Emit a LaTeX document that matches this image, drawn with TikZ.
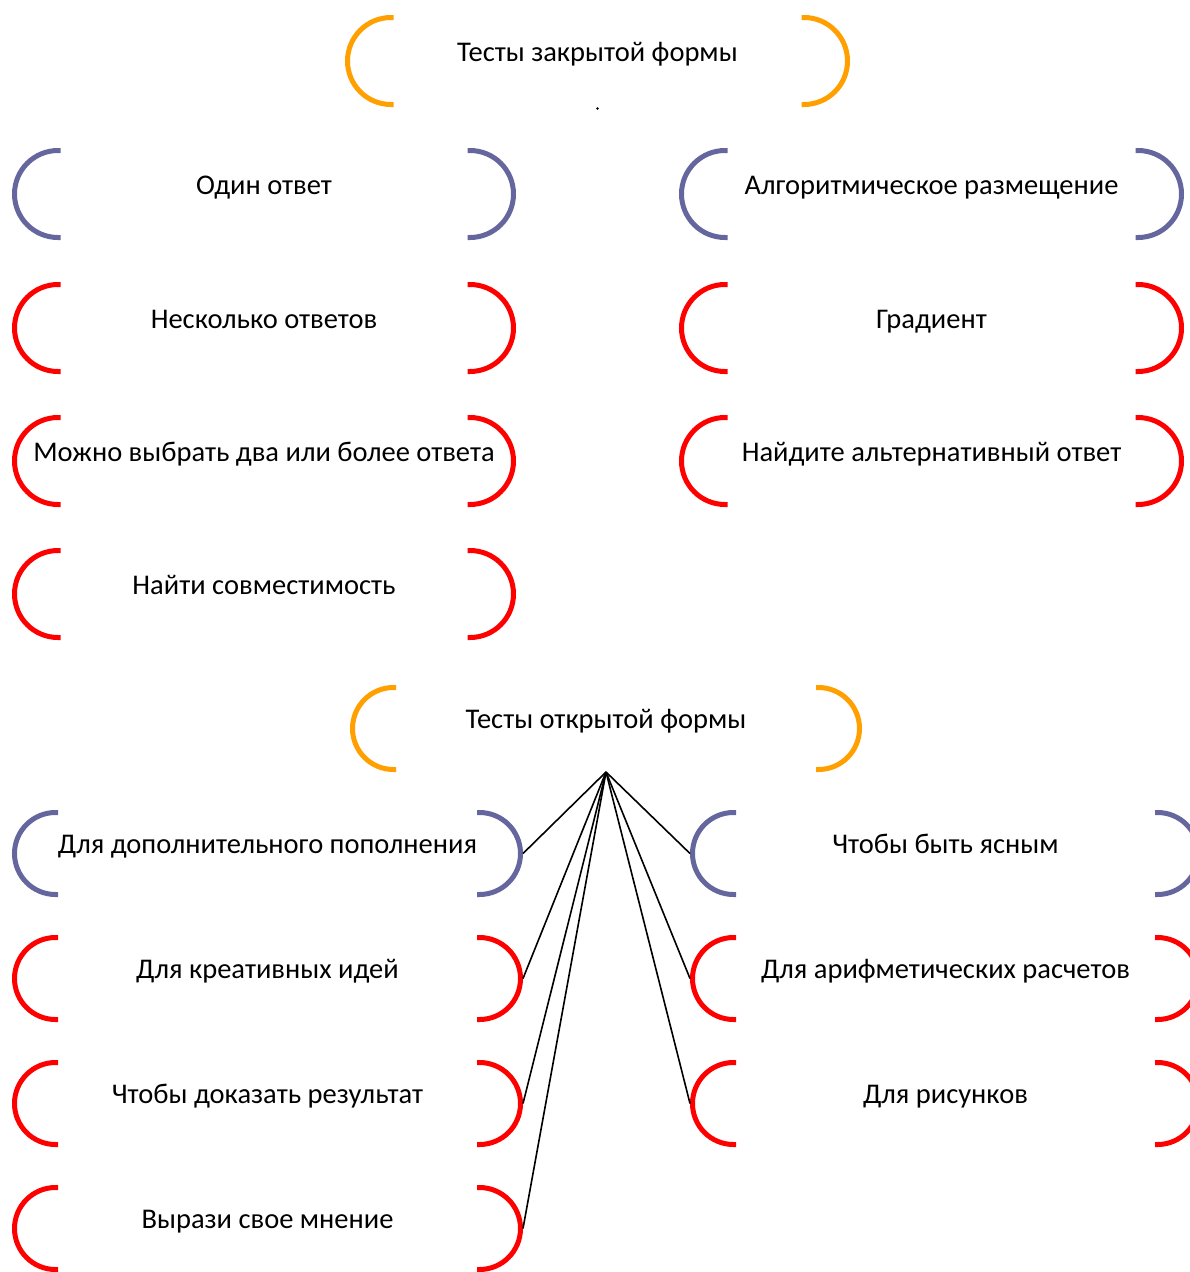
\documentclass[tikz,border=0pt]{standalone}
\usepackage{fontspec}
\setmainfont{Carlito}
\usetikzlibrary{calc}
\definecolor{borange}{HTML}{FFA000}
\definecolor{bpurple}{HTML}{66669E}
\definecolor{bred}{HTML}{FF0000}
\tikzset{
  box/.style={inner sep=0pt, outer sep=2.5pt, text height=10pt, text depth=10pt,
    font=\fontsize{28.5}{32}\selectfont},
  brk/.style={line width=5pt},
  link/.style={line width=1.6pt, black},
}
\newcommand\bx[7]{%
  \node[box, minimum width=#4pt, minimum height=#5pt] (#1) at (#2,#3) {#7};
  \draw[brk,#6] ($(#1.center)+(-#4/2+#5/2+2.5,-#5/2)$) -- ++(-2.5,0)
     arc[start angle=90,end angle=270,radius={#5pt/2}] -- ++(2.5,0);
  \draw[brk,#6] ($(#1.center)+(#4/2-#5/2-2.5,-#5/2)$) -- ++(2.5,0)
     arc[start angle=90,end angle=-90,radius={#5pt/2}] -- ++(-2.5,0);
}
\begin{document}
\begin{tikzpicture}[x=1pt,y=-1pt]
\useasboundingbox (0,0) rectangle (1190,1272);
% closed-form tests
\bx{closed}{597.5}{61}{500}{87}{borange}{Тесты закрытой формы}
\fill ($(closed.south)+(0,1.5)$) circle (1.4pt);
\bx{ul1}{264}{194}{499}{87}{bpurple}{Один ответ}
\bx{ul2}{264}{328}{499}{87}{bred}{Несколько ответов}
\bx{ul3}{264}{461}{499}{87}{bred}{Можно выбрать два или более ответа}
\bx{ul4}{264}{594}{499}{87}{bred}{Найти совместимость}
\bx{ur1}{931.5}{194}{500}{87}{bpurple}{Алгоритмическое размещение}
\bx{ur2}{931.5}{328}{500}{87}{bred}{Градиент}
\bx{ur3}{931.5}{461}{500}{87}{bred}{Найдите альтернативный ответ}
% open-form tests
\bx{open}{606}{728.5}{507}{82}{borange}{Тесты открытой формы}
\bx{ll1}{267.5}{853.5}{506}{82}{bpurple}{Для дополнительного пополнения}
\bx{ll2}{267.5}{978.5}{506}{82}{bred}{Для креативных идей}
\bx{ll3}{267.5}{1103.5}{506}{82}{bred}{Чтобы доказать результат}
\bx{ll4}{267.5}{1228.5}{506}{82}{bred}{Вырази свое мнение}
\bx{lr1}{945.5}{853.5}{506}{82}{bpurple}{Чтобы быть ясным}
\bx{lr2}{945.5}{978.5}{506}{82}{bred}{Для арифметических расчетов}
\bx{lr3}{945.5}{1103.5}{506}{82}{bred}{Для рисунков}
\foreach \n in {ll1,ll2,ll3,ll4} \draw[link] (open.south) -- (\n.east);
\foreach \n in {lr1,lr2,lr3} \draw[link] (open.south) -- (\n.west);
\end{tikzpicture}
\end{document}
